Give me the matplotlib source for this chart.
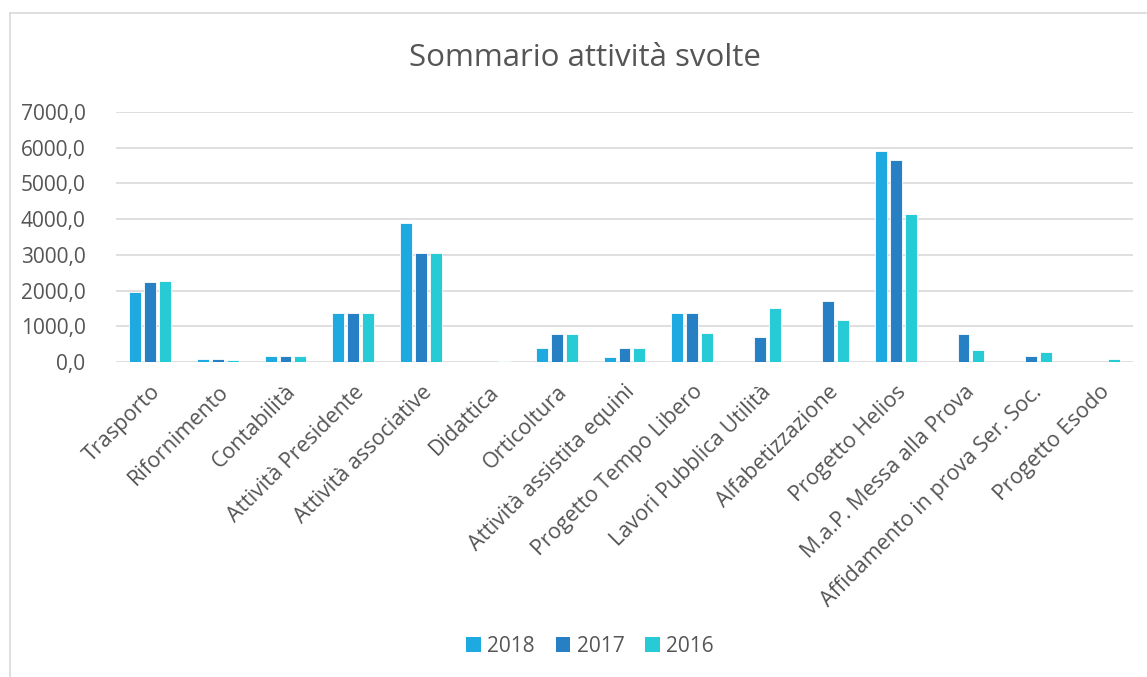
import matplotlib
matplotlib.use("Agg")
import matplotlib.pyplot as plt
import numpy as np
from matplotlib.lines import Line2D
from matplotlib.patches import Patch

categories = ["Trasporto", "Rifornimento", "Contabilità", "Attività Presidente",
              "Attività associative", "Didattica", "Orticoltura",
              "Attività assistita equini", "Progetto Tempo Libero",
              "Lavori Pubblica Utilità", "Alfabetizzazione", "Progetto Helios",
              "M.a.P. Messa alla Prova", "Affidamento in prova Ser. Soc.",
              "Progetto Esodo"]
series_names = ["2018", "2017", "2016"]
v2018 = [1960, 85, 170, 1380, 3880, 0, 385, 130, 1385, 0, 0, 5915, 0, 0, 0]
v2017 = [2230, 75, 170, 1380, 3040, 0, 780, 395, 1385, 710, 1715, 5660, 790, 170, 0]
v2016 = [2280, 55, 170, 1380, 3040, 30, 780, 395, 815, 1510, 1180, 4135, 335, 270, 75]
yticks = [0, 1000, 2000, 3000, 4000, 5000, 6000, 7000]

colors = ["#1EAAE0", "#2880C4", "#26CBD5"]
text_color = "#555555"
font = "Open Sans"

fig = plt.figure(figsize=(11.47, 6.77), dpi=100)
ax = fig.add_axes([116/1147, 1-362/677, (1133-116)/1147, 250/677])

x = np.arange(len(categories))
w = 12/68
step = 15/68
for i, (vals, c, n) in enumerate(zip([v2018, v2017, v2016], colors, series_names)):
    ax.bar(x + (i-1)*step, vals, width=w, color=c, edgecolor="white", linewidth=0.6, label=n, zorder=3)

ax.set_xlim(-0.5, len(categories)-0.5)
ax.set_ylim(0, 7000)
ax.set_yticks(yticks)
ax.set_yticklabels([f"{t:.1f}".replace(".", ",") for t in yticks], fontsize=15,
                   color=text_color, family=font)
ax.set_xticks(x)
ax.set_xticklabels(categories, rotation=45, ha="right", rotation_mode="anchor",
                   fontsize=15.5, color=text_color, family=font)
ax.tick_params(axis="both", length=0)
ax.tick_params(axis="y", pad=22)
ax.tick_params(axis="x", pad=14)
for s in ax.spines.values():
    s.set_visible(False)
ax.grid(axis="y", color="#D9D9D9", linewidth=1.2, zorder=0)
ax.set_axisbelow(True)

fig.text(585/1147, 1-58/677, "Sommario attività svolte", ha="center", va="center",
         fontsize=22.5, color=text_color, family=font)

handles = [Patch(facecolor=c, edgecolor="none", label=n) for c, n in zip(colors, series_names)]
fig.legend(handles=handles, loc="center", bbox_to_anchor=(590/1147, 1-646/677), ncol=3,
           frameon=False, prop={"family": font, "size": 15}, labelcolor=text_color,
           handlelength=0.7, handleheight=0.7, handletextpad=0.3, columnspacing=1.0)

fig.add_artist(Line2D([10/1147, 10/1147], [0, 1-13/677], transform=fig.transFigure,
                      color="#D9D9D9", linewidth=1.2))
fig.add_artist(Line2D([10/1147, 1], [1-13/677, 1-13/677], transform=fig.transFigure,
                      color="#D9D9D9", linewidth=1.2))

fig.savefig("out.png", dpi=100)
